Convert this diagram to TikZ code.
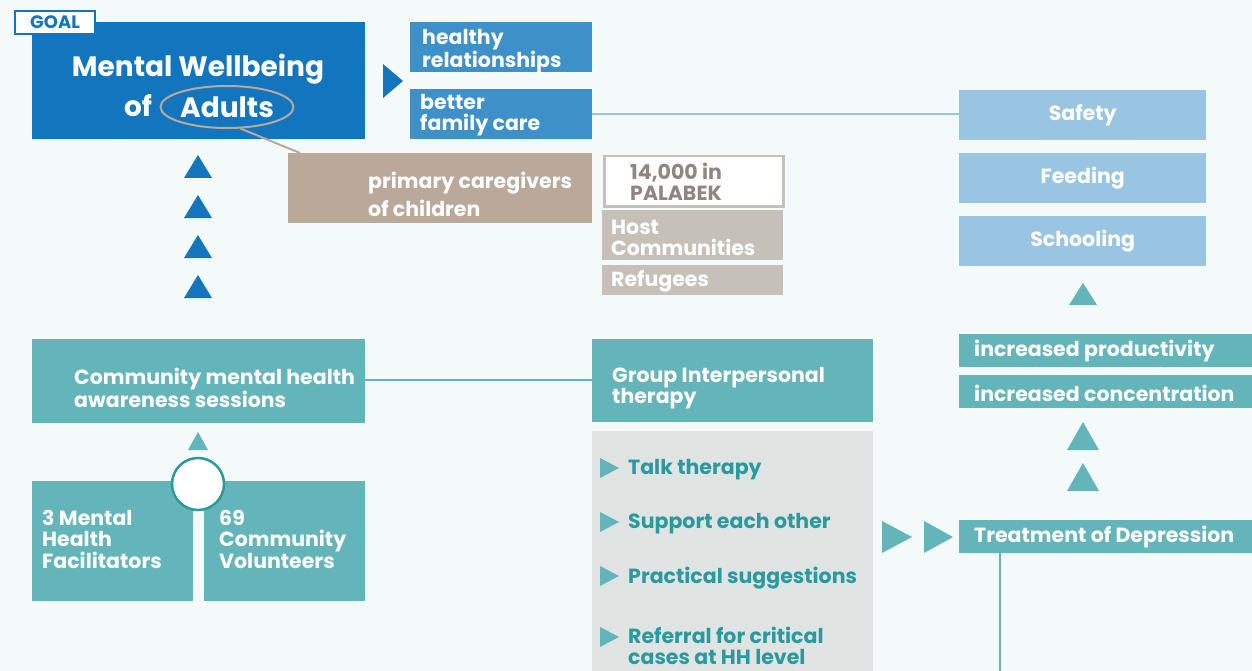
\documentclass[tikz,border=0pt]{standalone}
\usepackage{fontspec}
\setmainfont{Poppins}
\usetikzlibrary{positioning,shapes.geometric}

\definecolor{bgcol}{HTML}{F4F9F9}
\definecolor{goalblue}{HTML}{1275BD}
\definecolor{midblue}{HTML}{3E90C8}
\definecolor{paleblue}{HTML}{9AC5E2}
\definecolor{tancol}{HTML}{BAA89A}
\definecolor{greycol}{HTML}{C5C0B8}
\definecolor{greytext}{HTML}{8F877F}
\definecolor{tealcol}{HTML}{64B5B9}
\definecolor{darkteal}{HTML}{2A9A9E}
\definecolor{panelgrey}{HTML}{E0E4E3}

\begin{document}
\begin{tikzpicture}[x=1pt,y=-1pt,
  box node/.style={rectangle,inner sep=0pt,anchor=north west},
  word node/.style={inner sep=0pt,anchor=west,align=left,text=white,yshift=-2pt,
    font=\bfseries\fontsize{20.5}{21.5}\selectfont},
  item node/.style={word node,text=darkteal},
  big node/.style={inner sep=0pt,text=white,font=\bfseries\fontsize{28}{30}\selectfont},
  link line/.style={line width=2.5pt}]

  \fill[bgcol] (0,0) rectangle (1252,671);
  \useasboundingbox (0,0) rectangle (1252,671);

  % goal
  \node[box node,fill=goalblue,minimum width=333pt,minimum height=117pt] (goal) at (32,22) {};
  \node[box node,fill=white,draw=goalblue,line width=2pt,minimum width=80pt,minimum height=23pt,
    text=goalblue,font=\bfseries\fontsize{18}{18}\selectfont] (tag) at (14,10) {GOAL};
  \node[big node] (mw) at (198,69) {Mental Wellbeing};
  \node[big node] (of) at (138,106) {of};
  \node[big node,ellipse,draw=tancol,line width=2pt,minimum width=133pt,minimum height=42pt] (adults) at (227,107) {Adults};
  \fill[goalblue] (383,64) -- (403,81) -- (383,98) -- cycle;

  \node[box node,fill=midblue,minimum width=182pt,minimum height=50pt] (healthy) at (410,22) {};
  \node[word node] (healthytxt) at (422,49) {healthy\\relationships};
  \node[box node,fill=midblue,minimum width=182pt,minimum height=50pt] (family) at (410,89) {};
  \node[word node] (familytxt) at (420,113) {better\\family care};

  % outcomes
  \node[box node,fill=paleblue,minimum width=247pt,minimum height=50pt,font=\bfseries\fontsize{20.5}{21.5}\selectfont,text=white] (safety) at (959,90) {Safety};
  \node[box node,fill=paleblue,minimum width=247pt,minimum height=50pt,font=\bfseries\fontsize{20.5}{21.5}\selectfont,text=white] (feeding) at (959,153) {Feeding};
  \node[box node,fill=paleblue,minimum width=247pt,minimum height=50pt,font=\bfseries\fontsize{20.5}{21.5}\selectfont,text=white] (schooling) at (959,216) {Schooling};
  \draw[paleblue,link line] (family.east) -- (safety.west |- family.east);
  \fill[tealcol] (1069,305) -- (1083,283) -- (1097,305) -- cycle;

  % target group
  \node[box node,fill=tancol,minimum width=304pt,minimum height=70pt] (care) at (288,153) {};
  \node[word node,font=\bfseries\fontsize{20.5}{28}\selectfont] (caretxt) at (368,192) {primary caregivers\\of children};
  \coordinate (caretop) at (300,153);
  \draw[tancol,line width=2pt] (adults.-58) -- (caretop);

  \node[box node,fill=white,draw=greycol,line width=2.5pt,minimum width=179pt,minimum height=50pt] (palabek) at (603,155) {};
  \node[word node,text=greytext] (palabektxt) at (630,180) {14,000 in\\PALABEK};
  \node[box node,fill=greycol,minimum width=181pt,minimum height=50pt] (host) at (602,210) {};
  \node[word node] (hosttxt) at (611,236) {Host\\Communities};
  \node[box node,fill=greycol,minimum width=181pt,minimum height=30pt] (refugees) at (602,265) {};
  \node[word node] (refugeestxt) at (611,279) {Refugees};

  \foreach \ty in {155,195,235,275}
    \fill[goalblue] (184,\ty+23) -- (198,\ty) -- (212,\ty+23) -- cycle;

  % activities
  \node[box node,fill=tealcol,minimum width=333pt,minimum height=84pt] (community) at (32,339) {};
  \node[word node] (communitytxt) at (74,386) {Community mental health\\awareness sessions};
  \node[box node,fill=tealcol,minimum width=281pt,minimum height=83pt] (group) at (592,339) {};
  \node[word node] (grouptxt) at (612,386) {Group Interpersonal\\therapy};
  \draw[tealcol,link line] (community.east |- 0,380) -- (group.west |- 0,380);

  \node[box node,fill=panelgrey,minimum width=281pt,minimum height=240pt] (panel) at (592,431) {};
  \foreach \iy/\itext in {468/Talk therapy,522/Support each other,576/Practical suggestions}{
    \fill[tealcol] (600,\iy-10) -- (619,\iy) -- (600,\iy+10) -- cycle;
    \node[item node] at (628,\iy) {\itext};
  }
  \fill[tealcol] (600,627) -- (619,637) -- (600,647) -- cycle;
  \node[item node] (referral) at (628,644) {Referral for critical\\cases at HH level};

  % inputs
  \fill[tealcol] (188,450) -- (198,432) -- (208,450) -- cycle;
  \node[box node,fill=tealcol,minimum width=161pt,minimum height=120pt] (facil) at (32,481) {};
  \node[word node] (faciltxt) at (42,537) {3 Mental\\Health\\Facilitators};
  \node[box node,fill=tealcol,minimum width=161pt,minimum height=120pt] (volunt) at (204,481) {};
  \node[word node] (volunttxt) at (219,537) {69\\Community\\Volunteers};
  \node[circle,fill=white,draw=darkteal,line width=2.5pt,minimum size=52pt,inner sep=0pt] (hub) at (198,484) {};

  % depression chain
  \fill[tealcol] (882,521) -- (912,537) -- (882,553) -- cycle;
  \fill[tealcol] (924,521) -- (953,537) -- (924,553) -- cycle;
  \node[box node,fill=tealcol,minimum width=293pt,minimum height=33pt] (treat) at (959,520) {};
  \node[word node] (treattxt) at (974,535) {Treatment of Depression};
  \coordinate (chainend) at (1000,671);
  \draw[tealcol,line width=2pt] (treat.south west -| chainend) -- (chainend);

  \foreach \ty in {422,463}
    \fill[tealcol] (1067,\ty+28) -- (1083,\ty) -- (1099,\ty+28) -- cycle;
  \node[box node,fill=tealcol,minimum width=293pt,minimum height=33pt] (prod) at (959,334) {};
  \node[word node] (prodtxt) at (974,349) {increased productivity};
  \node[box node,fill=tealcol,minimum width=293pt,minimum height=33pt] (conc) at (959,375) {};
  \node[word node] (conctxt) at (974,391) {increased concentration};

\end{tikzpicture}
\end{document}
